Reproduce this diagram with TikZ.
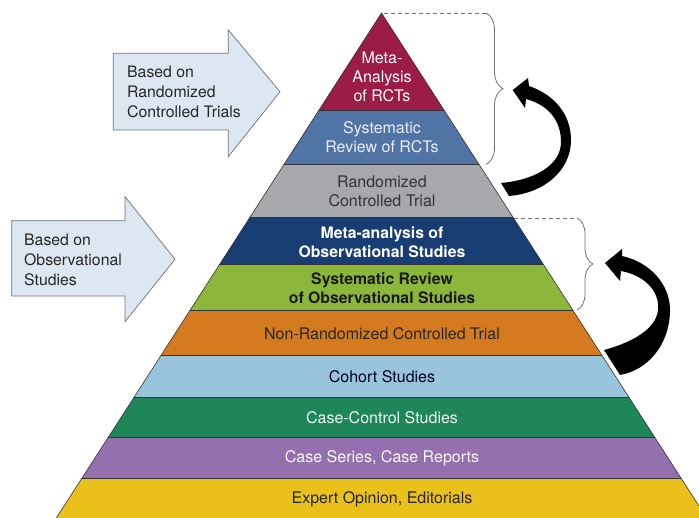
\documentclass[tikz,border=0pt]{standalone}
\usepackage{fontspec}
\setmainfont{TeX Gyre Heros}
\usetikzlibrary{decorations.pathreplacing}
\definecolor{cMetaR}{HTML}{9B1C47}
\definecolor{cSysR}{HTML}{5174A6}
\definecolor{cRCT}{HTML}{A7A8AB}
\definecolor{cMetaO}{HTML}{173D72}
\definecolor{cSysO}{HTML}{8DB73B}
\definecolor{cNRCT}{HTML}{D57B1F}
\definecolor{cCoh}{HTML}{98C4DC}
\definecolor{cCC}{HTML}{1F8659}
\definecolor{cCS}{HTML}{9470AF}
\definecolor{cExp}{HTML}{E9C11A}
\definecolor{cBlock}{HTML}{DDE7F2}
\definecolor{cGrey}{HTML}{707070}
\begin{document}
\begin{tikzpicture}[x=1pt,y=-1pt,
  lbl/.style={inner sep=0pt,align=center,font=\fontsize{16}{19.2}\selectfont},
  blbl/.style={inner sep=0pt,align=center,font=\fontsize{15.8}{19.2}\selectfont\bfseries},
  sidelbl/.style={inner sep=0pt,align=left,anchor=west,text=black!85,font=\fontsize{15.8}{20}\selectfont},
  sep/.style={draw=black!80,line width=0.6pt},
  blockarrow/.style={fill=cBlock,draw=cGrey,line width=0.7pt,line join=miter},
  dashline/.style={draw=cGrey,dashed,dash pattern=on 4pt off 3pt,line width=0.8pt},
  bracestyle/.style={draw=cGrey,line width=0.8pt,decorate,decoration={brace,amplitude=#1}},
  curvedarrow/.style={fill=black}
]
\useasboundingbox (0,0) rectangle (699,518);

% pyramid
\coordinate (apex) at (381.5,13);
\coordinate (bl) at (56.3,518);
\coordinate (br) at (706.7,518);
\begin{scope}
  \clip (apex) -- (bl) -- (br) -- cycle;
  \fill[cMetaR] (0,0) rectangle (720,110);
  \fill[cSysR] (0,110) rectangle (720,164.5);
  \fill[cRCT] (0,164.5) rectangle (720,217);
  \fill[cMetaO] (0,217) rectangle (720,264);
  \fill[cSysO] (0,264) rectangle (720,310);
  \fill[cNRCT] (0,310) rectangle (720,355.5);
  \fill[cCoh] (0,355.5) rectangle (720,397);
  \fill[cCC] (0,397) rectangle (720,437.5);
  \fill[cCS] (0,437.5) rectangle (720,478);
  \fill[cExp] (0,478) rectangle (720,520);
  \foreach \yy in {110,164.5,217,264,310,355.5,397,437.5,478}
    \draw[sep] (0,\yy) -- (720,\yy);
\end{scope}
\draw[sep] (bl) -- (apex) -- (br);

% labels
\node[lbl,text=white!90!pink] (t1) at (382,77) {Meta-\\Analysis\\of RCTs};
\node[lbl,text=white!88!cSysR] (t2) at (382,137.5) {Systematic\\Review of RCTs};
\node[lbl,text=black!80] (t3) at (382,191) {Randomized\\Controlled Trial};
\node[blbl,text=white] (t4) at (382,242) {Meta-analysis of\\Observational Studies};
\node[blbl,text=black!90] (t5) at (382,288) {Systematic Review\\of Observational Studies};
\node[lbl,text=black!85] (t6) at (382,333.5) {Non-Randomized Controlled Trial};
\node[lbl,text=black!85!blue] (t7) at (382,377) {Cohort Studies};
\node[lbl,text=white!92!cCC] (t8) at (382,418) {Case-Control Studies};
\node[lbl,text=white!95!cCS] (t9) at (382,458.5) {Case Series, Case Reports};
\node[lbl,text=black!85] (t10) at (382,499) {Expert Opinion, Editorials};

% block arrows
\draw[blockarrow] (113.3,53.3) -- (228.3,53.3) -- (228.3,30) -- (280,91.7) -- (228.3,156.7) -- (228.3,130) -- (113.3,130) -- cycle;
\node[sidelbl] (b1) at (127,92) {Based on\\Randomized\\Controlled Trials};
\draw[blockarrow] (11.7,220.7) -- (125,220.7) -- (125,196.7) -- (175,259.3) -- (125,321.7) -- (125,296) -- (11.7,296) -- cycle;
\node[sidelbl] (b2) at (24,260) {Based on\\Observational\\Studies};

% braces
\coordinate (ua) at (486,13);
\coordinate (ub) at (486,164.5);
\draw[dashline] (384,13) -- (ua);
\draw[bracestyle=17] (ua) -- (ub);
\coordinate (la) at (577,218);
\coordinate (lb) at (577,310);
\draw[dashline] (514,218) -- (la);
\draw[bracestyle=16] (la) -- (lb);

% curved black arrows
\fill[curvedarrow] (512.7,90) -- (528,78) -- (529,86)
  .. controls (555,95) and (571,115) .. (571,140)
  .. controls (571,170) and (545,193) .. (509,196)
  -- (501,183)
  .. controls (535,180) and (561,165) .. (561,142)
  .. controls (561,120) and (548,105) .. (526,99)
  -- (525,108) -- cycle;
\fill[curvedarrow] (605,263) -- (622,249) -- (622,256)
  .. controls (650,262) and (671,285) .. (670,312)
  .. controls (669,345) and (648,370) .. (620,375)
  -- (604,350)
  .. controls (630,343) and (656,330) .. (658,310)
  .. controls (660,290) and (643,275) .. (621,271)
  -- (620,281) -- cycle;
\end{tikzpicture}
\end{document}
